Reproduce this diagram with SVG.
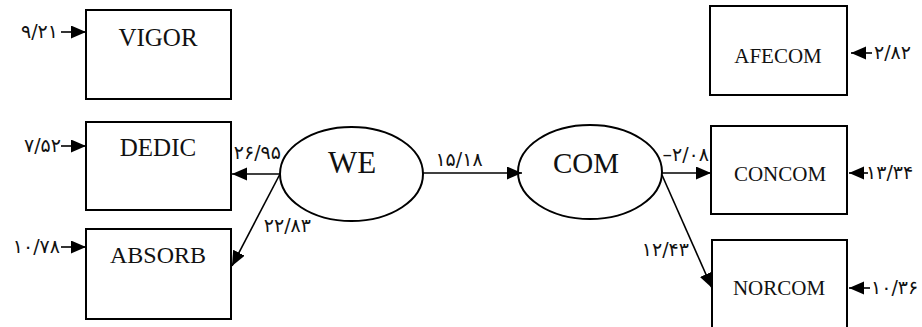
<svg xmlns="http://www.w3.org/2000/svg" width="922" height="327" viewBox="0 0 922 327">
<defs>
<marker id="ah" markerUnits="userSpaceOnUse" markerWidth="17" markerHeight="14" refX="15" refY="6.5" orient="auto">
<path d="M0,0 L15,6.5 L0,13 z" fill="#000"/>
</marker>
<style>
.box{fill:#fff;stroke:#000;stroke-width:2}
.ell{fill:none;stroke:#000;stroke-width:2}
.ln{stroke:#000;stroke-width:1.6;fill:none;marker-end:url(#ah)}
.lbl{font-family:"Liberation Serif","Times New Roman",serif;fill:#111;text-anchor:middle}
.num{font-family:"DejaVu Sans","Noto Sans",sans-serif;font-size:19px;fill:#111}
</style>
</defs>
<rect width="922" height="327" fill="#fff"/>
<g id="VIGOR"><rect class="box" x="86" y="10" width="145" height="89"/><text class="lbl" x="158" y="46" font-size="25">VIGOR</text></g>
<g id="DEDIC"><rect class="box" x="86" y="122" width="145" height="88"/><text class="lbl" x="158" y="156" font-size="25">DEDIC</text></g>
<g id="ABSORB"><rect class="box" x="86" y="229" width="145" height="90"/><text class="lbl" x="158" y="263" font-size="24">ABSORB</text></g>
<g id="WE"><ellipse class="ell" cx="351.5" cy="174" rx="71.5" ry="47"/><text class="lbl" x="352" y="173" font-size="31">WE</text></g>
<g id="COM"><ellipse class="ell" cx="590" cy="172" rx="72" ry="47"/><text class="lbl" x="586" y="173" font-size="29">COM</text></g>
<g id="AFECOM"><rect class="box" x="710" y="6" width="137" height="89"/><text class="lbl" x="778" y="63" font-size="21">AFECOM</text></g>
<g id="CONCOM"><rect class="box" x="711" y="126" width="136" height="88"/><text class="lbl" x="780" y="181" font-size="21">CONCOM</text></g>
<g id="NORCOM"><rect class="box" x="712" y="240" width="135" height="92"/><text class="lbl" x="779" y="295" font-size="21">NORCOM</text></g>
<g id="connectors">
<line class="ln" x1="61" y1="32" x2="86" y2="32"/>
<line class="ln" x1="61" y1="146" x2="86" y2="146"/>
<line class="ln" x1="61" y1="247" x2="86" y2="247"/>
<line class="ln" x1="280" y1="174" x2="232" y2="174"/>
<line class="ln" x1="280" y1="174" x2="232" y2="266"/>
<line class="ln" x1="423" y1="173" x2="522" y2="173"/>
<line class="ln" x1="662" y1="173" x2="711" y2="173"/>
<line class="ln" x1="662" y1="175" x2="712" y2="288"/>
<line class="ln" x1="872" y1="53" x2="851" y2="53"/>
<line class="ln" x1="868" y1="173" x2="849" y2="173"/>
<line class="ln" x1="870" y1="288" x2="849" y2="288"/>
</g>
<g id="labels">
<text class="num" x="58" y="38" text-anchor="end">۹/۲۱</text>
<text class="num" x="61" y="152" text-anchor="end">۷/۵۲</text>
<text class="num" x="60" y="253" text-anchor="end">۱۰/۷۸</text>
<text class="num" x="281" y="159" text-anchor="end">۲۶/۹۵</text>
<text class="num" x="311" y="232" text-anchor="end">۲۲/۸۳</text>
<text class="num" x="459" y="166" text-anchor="middle">۱۵/۱۸</text>
<text class="num" x="709" y="161" text-anchor="end">–۲/۰۸</text>
<text class="num" x="689" y="256" text-anchor="end">۱۲/۴۳</text>
<text class="num" x="874" y="59">۲/۸۲</text>
<text class="num" x="866" y="179">۱۳/۳۴</text>
<text class="num" x="871" y="294">۱۰/۳۶</text>
</g>
</svg>
